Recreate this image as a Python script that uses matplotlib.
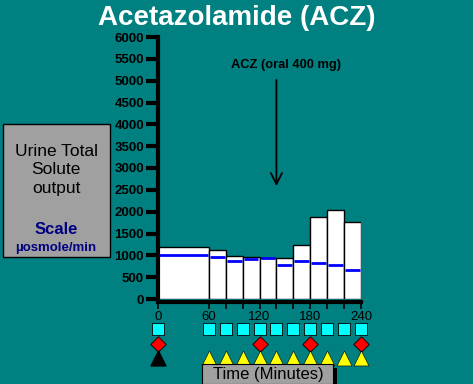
import numpy as np
import matplotlib
matplotlib.use("Agg")
import matplotlib.pyplot as plt
from matplotlib.patches import Rectangle

# urine solute output per collection period (uosmole/min)
period_start = [0, 60, 80, 100, 120, 140, 160, 180, 200, 220]
period_end = [60, 80, 100, 120, 140, 160, 180, 200, 220, 240]
total_solute = [1200, 1115, 995, 955, 940, 950, 1230, 1870, 2030, 1755]
blue_level = [1010, 970, 860, 905, 935, 785, 860, 815, 770, 655]

xtick_vals = [0, 60, 120, 180, 240]
minor_ticks = [0, 60, 80, 100, 120, 140, 160, 180, 200, 220, 240]
square_times = [0, 60, 80, 100, 120, 140, 160, 180, 200, 220, 240]
diamond_times = [0, 120, 180, 240]
black_tri_times = [0]
yellow_tri_times = [60, 80, 100, 120, 140, 160, 180, 200, 220, 240]

BG = "#008080"
FONT = "Liberation Sans"

fig = plt.figure(figsize=(4.73, 3.84), dpi=100, facecolor=BG)
W, H = 473, 384

ax = fig.add_axes([158 / W, (H - 299) / H, (361 - 158) / W, (299 - 37) / H])
ax.set_facecolor(BG)
ax.set_xlim(0, 240)
ax.set_ylim(0, 6000)

for s, e, v, b in zip(period_start, period_end, total_solute, blue_level):
    ax.bar(s, v, width=e - s, align="edge", color="white", edgecolor="black", linewidth=1.0, zorder=2)
    ax.plot([s + 1.2, e - 1.2], [b, b], color="#0000ff", linewidth=2.0, zorder=3, solid_capstyle="butt")

for sp in ["top", "right"]:
    ax.spines[sp].set_visible(False)
ax.spines["left"].set_linewidth(3)
ax.spines["bottom"].set_linewidth(3)
ax.spines["bottom"].set_position(("outward", 2))

ax.set_yticks(np.arange(0, 6001, 500))
ax.set_yticklabels([str(v) for v in range(0, 6001, 500)], fontsize=9.5, fontweight="bold",
                   family=FONT)
ax.tick_params(axis="y", length=9, width=3, direction="out", pad=1)

ax.set_xticks(minor_ticks)
ax.set_xticklabels([str(t) if t in xtick_vals else "" for t in minor_ticks], fontsize=9.5,
                   family=FONT)
ax.tick_params(axis="x", length=5, width=1.2, direction="out", pad=2)

ax.annotate("", xy=(140, 2520), xytext=(140, 5080),
            arrowprops=dict(arrowstyle="->", color="black", lw=1.3, mutation_scale=20))
ax.text(151, 5350, "ACZ (oral 400 mg)", ha="center", va="center", fontsize=9.3,
        fontweight="bold", family=FONT)

# markers row under the time axis
ax2 = fig.add_axes([158 / W, (H - 368) / H, (361 - 158) / W, (368 - 320) / H])
ax2.set_xlim(0, 240)
ax2.set_ylim(0, 48)
ax2.axis("off")
ax2.patch.set_alpha(0)
ax2.scatter(square_times, [39] * len(square_times), marker="s", s=72, color="#00ffff",
            edgecolors="black", linewidths=0.6, clip_on=False)
ax2.scatter(diamond_times, [24] * len(diamond_times), marker="D", s=62, color="#ff0000",
            edgecolors="black", linewidths=0.6, clip_on=False)
ax2.scatter(black_tri_times, [10] * len(black_tri_times), marker="^", s=115, color="black",
            clip_on=False)
ax2.scatter(yellow_tri_times, [10] * len(yellow_tri_times), marker="^", s=115, color="#ffff00",
            edgecolors="black", linewidths=0.4, clip_on=False)

# title
fig.text(237 / W, 1 - 18 / H, "Acetazolamide (ACZ)", ha="center", va="center", color="white",
         fontsize=20, fontweight="bold", family=FONT)

# left label box
fig.patches.append(Rectangle((3 / W, 1 - 257 / H), 107 / W, 133 / H, transform=fig.transFigure,
                             facecolor="#a0a0a0", edgecolor="black", linewidth=1))
fig.text(56 / W, 1 - 152 / H, "Urine Total", ha="center", va="center", fontsize=12.5,
         family=FONT)
fig.text(56 / W, 1 - 170 / H, "Solute", ha="center", va="center", fontsize=12.5,
         family=FONT)
fig.text(56 / W, 1 - 189 / H, "output", ha="center", va="center", fontsize=12.5,
         family=FONT)
fig.text(56 / W, 1 - 230 / H, "Scale", ha="center", va="center", fontsize=12,
         fontweight="bold", color="#000080", family=FONT)
fig.text(56 / W, 1 - 248 / H, "\u00b5osmole/min", ha="center", va="center", fontsize=9.5,
         fontweight="bold", color="#000080", family=FONT)

# time label box with shadow
fig.patches.append(Rectangle((205 / W, 0), 132 / W, 16 / H, transform=fig.transFigure,
                             facecolor="black", edgecolor="none"))
fig.patches.append(Rectangle((202 / W, 0), 131 / W, 20 / H, transform=fig.transFigure,
                             facecolor="#a0a0a0", edgecolor="black", linewidth=0.8))
fig.text(268 / W, 1 - 375 / H, "Time (Minutes)", ha="center", va="center", fontsize=12,
         family=FONT)

fig.savefig("out.png", dpi=100, facecolor=BG)
